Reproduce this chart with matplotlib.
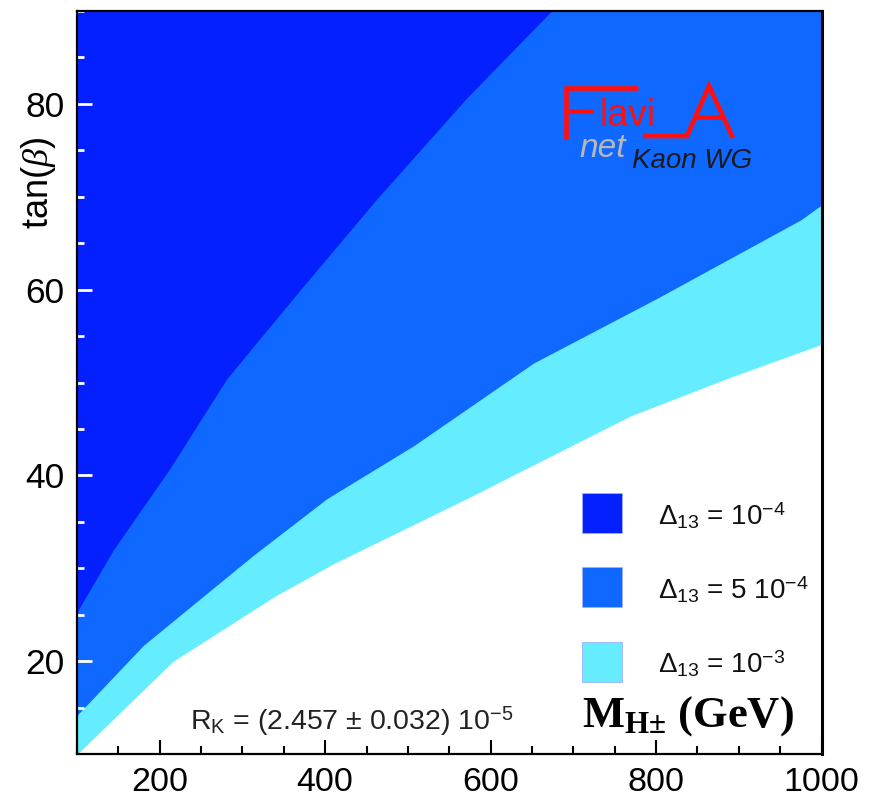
import matplotlib
matplotlib.use("Agg")
import matplotlib.pyplot as plt
from matplotlib.patches import Rectangle
from matplotlib.lines import Line2D

plt.rcParams['font.family'] = ['Liberation Sans', 'DejaVu Sans']
plt.rcParams['mathtext.fontset'] = 'custom'
plt.rcParams['mathtext.rm'] = 'Liberation Sans'
plt.rcParams['mathtext.it'] = 'Liberation Serif:italic'
plt.rcParams['mathtext.bf'] = 'Liberation Serif:bold'

# ---------------- data (boundaries of the allowed regions) ----------------
# Delta13 = 1e-4 (dark) : region above this curve
dark_x = [100, 144, 212, 281, 374, 462, 571, 674]
dark_y = [25.3, 32.0, 40.7, 50.4, 60.4, 69.7, 80.6, 90.0]
# Delta13 = 5e-4 (medium)
med_x = [100, 180, 313, 402, 507, 652, 800, 975, 1000]
med_y = [14.2, 21.7, 31.4, 37.5, 43.2, 52.1, 59.0, 67.5, 69.1]
# Delta13 = 1e-3 (light)
cyan_x = [100, 216, 341, 410, 571, 769, 894, 1000]
cyan_y = [10.0, 20.0, 27.1, 30.5, 37.5, 46.4, 50.7, 54.1]

x_ticks = [200, 400, 600, 800, 1000]
y_ticks = [20, 40, 60, 80]
legend_labels = [r'$\Delta_{13}$ = 10$^{-4}$', r'$\Delta_{13}$ = 5 10$^{-4}$', r'$\Delta_{13}$ = 10$^{-3}$']

c_dark = '#0520FF'
c_med = '#0F68FF'
c_cyan = '#66ECFF'
colors = [c_dark, c_med, c_cyan]

W, H = 880, 798
fig = plt.figure(figsize=(W / 100, H / 100), dpi=100)
ax = fig.add_axes([77 / W, 1 - 754.3 / H, 744.5 / W, 743.6 / H])

ax.fill_between(cyan_x, cyan_y, 95, color=c_cyan, lw=0, zorder=1)
ax.fill_between(med_x, med_y, 95, color=c_med, lw=0, zorder=1.1)
ax.fill_between(dark_x, dark_y, 95, color=c_dark, lw=0, zorder=1.2)

ax.set_xlim(100, 1000)
ax.set_ylim(10, 90)
ax.set_xticks(x_ticks)
ax.set_xticks(list(range(100, 1001, 50)), minor=True)
ax.set_yticks(y_ticks)
ax.set_yticks(list(range(10, 91, 5)), minor=True)
ax.tick_params(axis='x', which='major', direction='in', length=10, width=1.5,
               color='black', labelsize=24.5, pad=9, labelcolor='black')
ax.tick_params(axis='x', which='minor', direction='in', length=5.5, width=1.5, color='black')
ax.tick_params(axis='y', which='major', direction='in', length=10.5, width=2,
               color='white', labelsize=25.5, pad=9, labelcolor='black')
ax.tick_params(axis='y', which='minor', direction='in', length=5, width=2, color='white')
for s in ax.spines.values():
    s.set_linewidth(1.6)
    s.set_color('black')
    s.set_zorder(5)
ax.spines['right'].set_linewidth(2.2)

# y label
ax.text(-0.052, 0.768, r'tan($\beta$)', rotation=90, ha='center', va='center',
        fontsize=26, transform=ax.transAxes)

# x label
ax.text(0.678, 0.0367, r'$\mathbf{M_{H±}}$ (GeV)', ha='left', va='baseline',
        fontsize=32, fontfamily='Liberation Serif', fontweight='bold',
        transform=ax.transAxes, zorder=6)

# R_K annotation
ax.text(0.152, 0.034, r'R$_{\mathrm{K}}$ = (2.457 ± 0.032) 10$^{-5}$', ha='left', va='baseline',
        fontsize=20.5, transform=ax.transAxes, color='#222222', zorder=6)

# legend
sq_bottoms = [0.2976, 0.198, 0.0972]
txt_base = [0.3084, 0.2084, 0.109]
for c, lab, yb, yt in zip(colors, legend_labels, sq_bottoms, txt_base):
    ax.add_patch(Rectangle((0.678, yb), 40 / 744.5, 40 / 743.6, transform=ax.transAxes,
                           facecolor=c, edgecolor='#9fb0ff', lw=0.6, zorder=6))
    ax.text(0.780, yt, lab, ha='left', va='baseline', fontsize=20,
            transform=ax.transAxes, color='#111111', zorder=6)

# FlaviA net logo
def P(x, y):
    return (x / W, 1 - y / H)

def seg(pts, color='#FF1010', lw=3.4):
    xs = [P(*p)[0] for p in pts]
    ys = [P(*p)[1] for p in pts]
    fig.add_artist(Line2D(xs, ys, color=color, lw=lw, transform=fig.transFigure,
                          solid_capstyle='butt', solid_joinstyle='miter'))

seg([(566, 139), (566, 88)])
seg([(563.5, 88), (638, 88)])
seg([(566, 111), (593, 111)])
seg([(643, 136), (687, 136), (709, 86), (733, 138)])
seg([(695, 117), (724, 117)])
fig.text(*P(600, 126), 'lavi', color='#FF1010', fontsize=27, ha='left', va='baseline')
fig.text(*P(579, 157), 'net', color='#B8B8B8', fontsize=24, style='italic',
         ha='left', va='baseline')
fig.text(*P(632, 168), 'Kaon WG', color='#1a1a1a', fontsize=20, style='italic',
         ha='left', va='baseline')

fig.savefig('out.png', dpi=100)
